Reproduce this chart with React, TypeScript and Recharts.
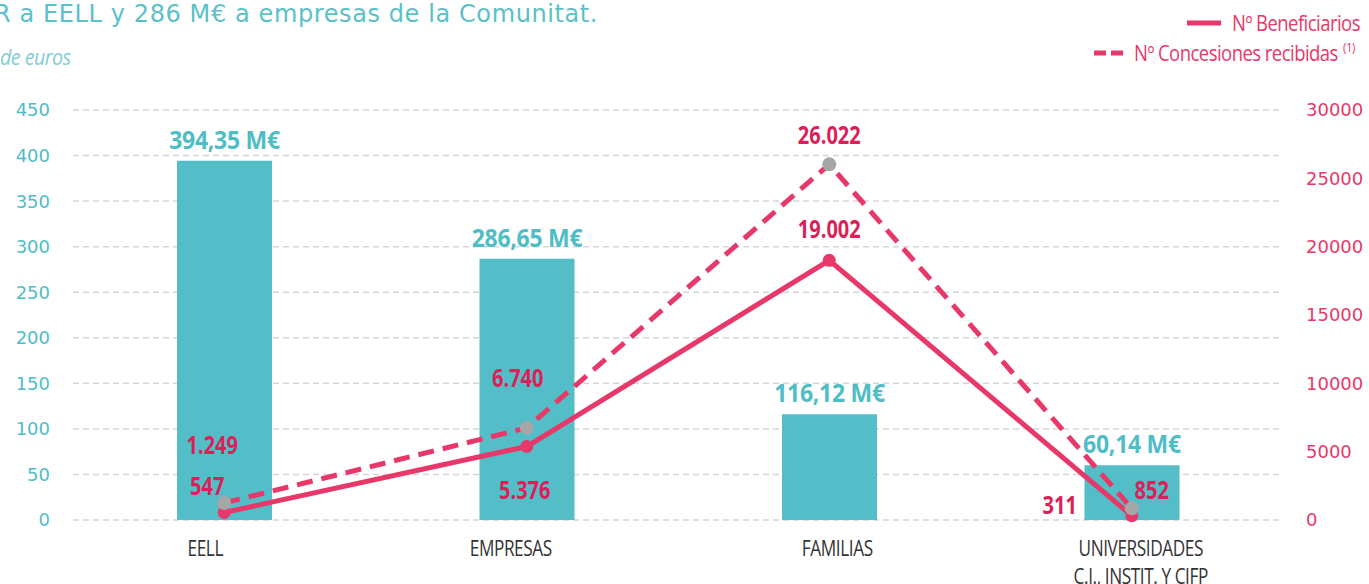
import React from "react";
import {
  ComposedChart,
  Bar,
  Line,
  XAxis,
  YAxis,
  CartesianGrid,
  LabelList,
} from "recharts";

// ---- data ----
const categories = ["EELL", "EMPRESAS", "FAMILIAS", "UNIVERSIDADES\nC.I., INSTIT. Y CIFP"];
const importeMillones = [394.35, 286.65, 116.12, 60.14];
const beneficiarios = [547, 5376, 19002, 311];
const concesiones = [1249, 6740, 26022, 852];
const leftTicks = [0, 50, 100, 150, 200, 250, 300, 350, 400, 450];
const rightTicks = [0, 5000, 10000, 15000, 20000, 25000, 30000];

// ---- label placement (style) ----
const benefOffsets = [
  [-17, -27],
  [-2, 43],
  [0, -32],
  [-72, -11],
];
const concOffsets = [
  [-12, -58],
  [-9, -50],
  [0, -30],
  [20, -19],
];
const tickOffsets = [-19, -16, 8, 9];

const TEAL = "#53BEC7";
const TEAL_TEXT = "#4FBDC6";
const PINK = "#E8386A";
const PINK_TEXT = "#DC1F57";
const NARROW = "'Open Sans', sans-serif";
const AXISFONT = "'DejaVu Sans', Verdana, sans-serif";

const data = categories.map((c, i) => ({
  cat: c,
  importe: importeMillones[i],
  benef: beneficiarios[i],
  conc: concesiones[i],
}));

const fmtThousands = (v: number) =>
  String(v).replace(/\B(?=(\d{3})+(?!\d))/g, ".");
const fmtMillones = (v: number) => v.toFixed(2).replace(".", ",") + " M€";

const NText = ({ x, y, sx = 0.78, anchor = "middle", children, ...rest }: any) => (
  <text
    transform={`translate(${x},${y}) scale(${sx},1)`}
    x={0}
    y={0}
    textAnchor={anchor}
    dominantBaseline="central"
    fontFamily={NARROW}
    {...rest}
  >
    {children}
  </text>
);

const makeLineLabel = (offsets: number[][]) => (props: any) => {
  const { x, y, value, index } = props;
  const [dx, dy] = offsets[index] || [0, 0];
  return (
    <NText x={x + dx} y={y + dy} fill={PINK_TEXT} fontWeight={700} fontSize={25} sx={0.8}>
      {fmtThousands(value)}
    </NText>
  );
};

const BarLabel = (props: any) => {
  const { x, y, width, value } = props;
  return (
    <NText
      x={x + width / 2}
      y={y - 22}
      fill={TEAL_TEXT}
      fontWeight={700}
      fontSize={25}
      sx={0.92}
      letterSpacing={-0.3}
    >
      {fmtMillones(value)}
    </NText>
  );
};

const CatTick = (props: any) => {
  const { x, y, payload, index } = props;
  const lines = String(payload.value).split("\n");
  const dx = tickOffsets[index] || 0;
  return (
    <g>
      {lines.map((l: string, i: number) => (
        <NText
          key={i}
          x={x + dx}
          y={y + 20 + i * 28}
          fill="#333"
          fontSize={21}
          sx={0.82}
          letterSpacing={-0.5}
        >
          {l}
        </NText>
      ))}
    </g>
  );
};

export default function App() {
  return (
    <div
      style={{
        position: "absolute",
        left: 0,
        top: 0,
        width: 1369,
        height: 584,
        overflow: "hidden",
        background: "#fff",
      }}
    >
      <div
        style={{
          position: "absolute",
          left: -6,
          top: -2,
          fontFamily: "'DejaVu Sans', sans-serif",
          fontSize: 24,
          letterSpacing: 0.6,
          lineHeight: "32px",
          color: "#5BC0C8",
          whiteSpace: "nowrap",
        }}
      >
        R a EELL y 286 M€ a empresas de la Comunitat.
      </div>
      <svg style={{ position: "absolute", left: 0, top: 40 }} width={120} height={34}>
        <NText
          x={0}
          y={17}
          anchor="start"
          fill="#82CDD4"
          fontStyle="italic"
          fontSize={21}
          sx={0.94}
          letterSpacing={-0.6}
        >
          de euros
        </NText>
      </svg>
      {/* legend */}
      <svg
        style={{ position: "absolute", left: 1080, top: 0 }}
        width={289}
        height={75}
      >
        <line x1={107} y1={23} x2={141} y2={23} stroke={PINK} strokeWidth={5} />
        <NText x={152} y={23} anchor="start" fill={PINK} fontSize={21} sx={0.88} letterSpacing={-0.6}>
          Nº Beneficiarios
        </NText>
        <line
          x1={14}
          y1={53}
          x2={43}
          y2={53}
          stroke={PINK}
          strokeWidth={5}
          strokeDasharray="12 5"
        />
        <NText x={54} y={53} anchor="start" fill={PINK} fontSize={21} sx={0.88} letterSpacing={-0.6}>
          Nº Concesiones recibidas
          <tspan dx={6} dy={-6} fontSize={13}>
            (1)
          </tspan>
        </NText>
      </svg>
      <div style={{ position: "absolute", left: 0, top: 0 }}>
        <ComposedChart
          width={1369}
          height={584}
          data={data}
          margin={{ top: 110, right: 0, bottom: 0, left: 0 }}
        >
          <CartesianGrid
            yAxisId="left"
            vertical={false}
            stroke="#D5D5D5"
            strokeDasharray="6 4"
            strokeWidth={1.5}
          />
          <XAxis
            dataKey="cat"
            height={64}
            axisLine={false}
            tickLine={false}
            tick={<CatTick />}
            interval={0}
          />
          <YAxis
            yAxisId="left"
            width={73}
            domain={[0, 450]}
            ticks={leftTicks}
            axisLine={false}
            tickLine={false}
            tickMargin={17}
            tick={{ fill: TEAL_TEXT, fontSize: 18, fontFamily: AXISFONT }}
          />
          <YAxis
            yAxisId="right"
            orientation="right"
            width={86}
            domain={[0, 30000]}
            ticks={rightTicks}
            axisLine={false}
            tickLine={false}
            tickMargin={17}
            tick={{ fill: PINK, fontSize: 18, fontFamily: AXISFONT }}
          />
          <Bar
            yAxisId="left"
            dataKey="importe"
            fill={TEAL}
            barSize={95}
            isAnimationActive={false}
          >
            <LabelList dataKey="importe" content={<BarLabel />} />
          </Bar>
          <Line
            yAxisId="right"
            dataKey="benef"
            stroke={PINK}
            strokeWidth={5}
            dot={{ r: 6.5, fill: PINK, stroke: "none" }}
            activeDot={false}
            isAnimationActive={false}
          >
            <LabelList dataKey="benef" content={makeLineLabel(benefOffsets)} />
          </Line>
          <Line
            yAxisId="right"
            dataKey="conc"
            stroke={PINK}
            strokeWidth={5}
            strokeDasharray="16 9"
            dot={{ r: 7, fill: "#A6A6A6", stroke: "none", strokeDasharray: "" }}
            activeDot={false}
            isAnimationActive={false}
          >
            <LabelList dataKey="conc" content={makeLineLabel(concOffsets)} />
          </Line>
        </ComposedChart>
      </div>
    </div>
  );
}
